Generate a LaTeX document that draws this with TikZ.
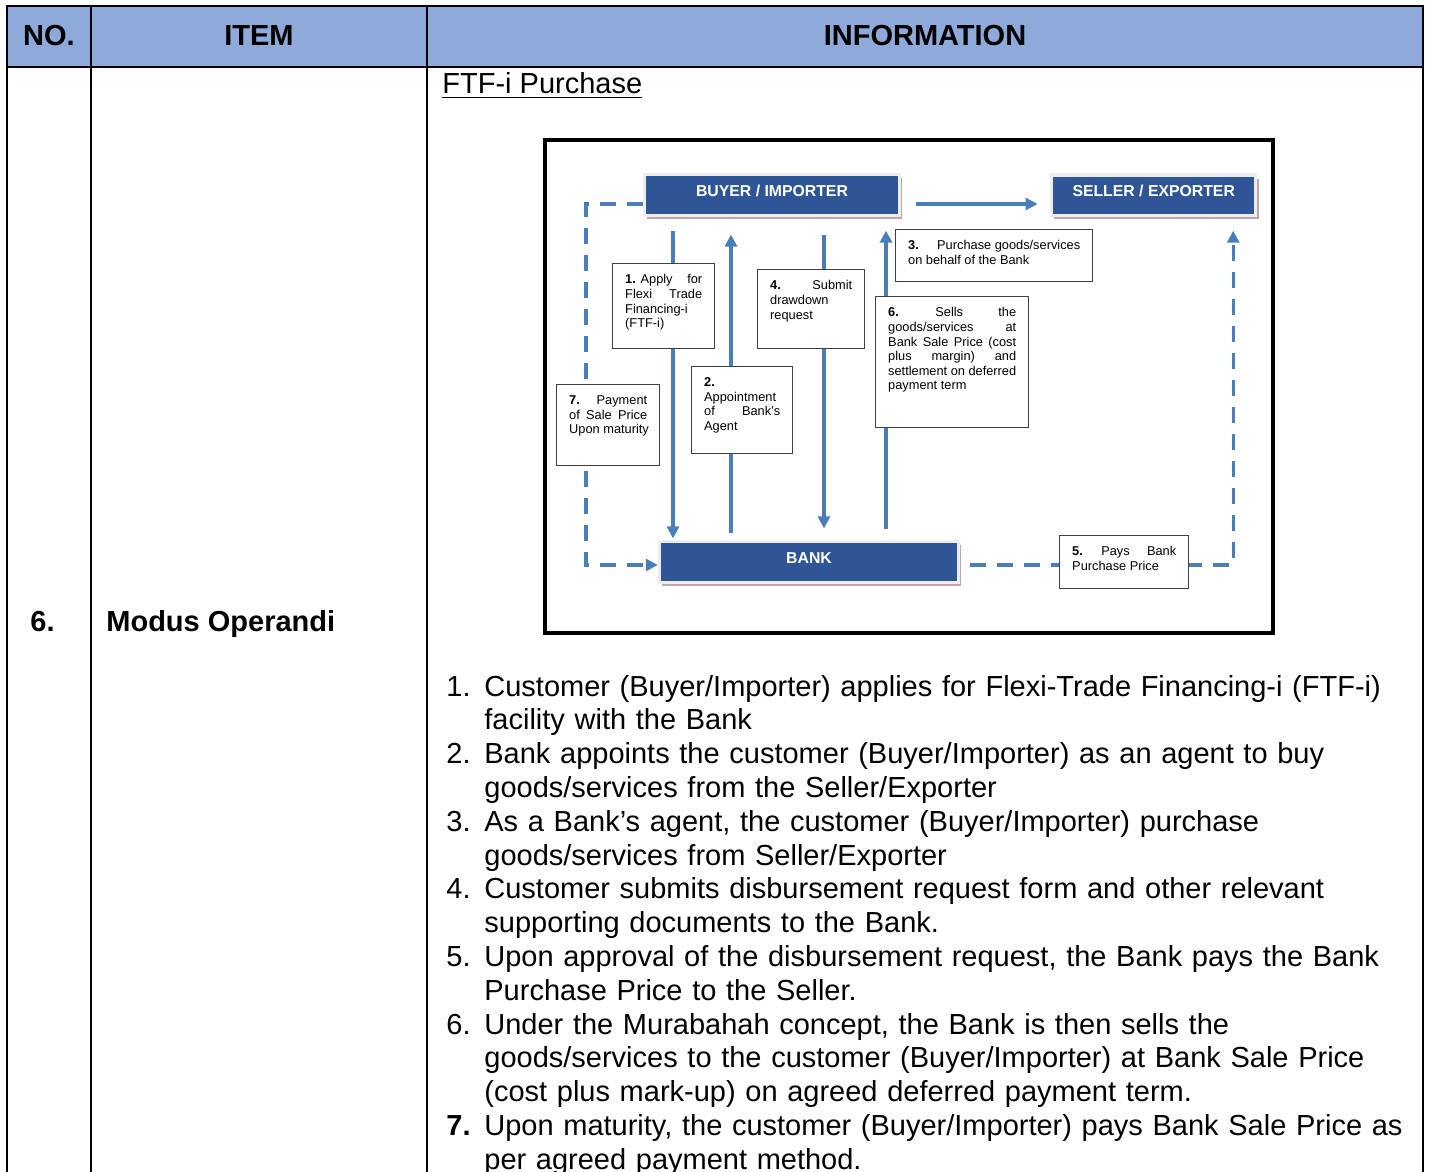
\documentclass[tikz,border=0pt]{standalone}
\usepackage{fontspec}
\setmainfont{Liberation Sans}
\usetikzlibrary{arrows.meta, positioning, shadows}
\definecolor{headblue}{HTML}{8EAADB}
\definecolor{boxblue}{HTML}{2F5597}
\definecolor{flowblue}{HTML}{4A7EBB}
\definecolor{rim}{HTML}{EDEDED}
\definecolor{rimshadow}{HTML}{C4A4A4}
\newcommand{\notefont}{\fontsize{6.4}{7.3}\selectfont}
\newcommand{\listfont}{\fontsize{14.5}{16.9}\selectfont}

\begin{document}
\begin{tikzpicture}[x=0.5pt, y=-0.5pt,
  head/.style={font=\listfont\bfseries, inner sep=0pt},
  party/.style={rectangle, fill=boxblue, draw=rim, line width=1.6pt, text=white, font=\fontsize{7.9}{9}\selectfont\bfseries, text height=5.7pt, text depth=4pt, general shadow={fill=rimshadow, shadow xshift=1.4pt, shadow yshift=-1.8pt}},
  note/.style={rectangle, draw=black!75, line width=0.7pt, fill=white, anchor=north west, inner xsep=6.25pt, inner ysep=5.5pt, font=\notefont},
  flow/.style={draw=flowblue, line width=1.7pt, -{Triangle[length=6pt, width=6pt]}},
  pay/.style={flow, dash pattern=on 8pt off 5.5pt}
]
  \useasboundingbox (0,0) rectangle (1429,1172);

  \fill[headblue] (7,6) rectangle (1423,67);
  \draw[line width=1pt] (7,1172) -- (7,6) -- (1423,6) -- (1423,1172);
  \draw[line width=1pt] (7,67) -- (1423,67);
  \draw[line width=1pt] (91,6) -- (91,1172);
  \draw[line width=1pt] (427,6) -- (427,1172);

  \node[head] (no) at (49,36) {NO.};
  \node[head] (item) at (259,36) {ITEM};
  \node[head] (info) at (925,36) {INFORMATION};

  \node[head, anchor=base west] (num) at (30,631.5) {6.};
  \node[head, anchor=base west] (itemname) at (106,631.5) {Modus Operandi};
  \node[anchor=base west, inner sep=0pt, font=\listfont] (title) at (442,94) {\underline{FTF-i Purchase}};

  \draw[line width=2pt] (545,140) rectangle (1273,633);

  \node[party, minimum width=127.6pt, minimum height=20.6pt] (buyer) at (772,195) {BUYER / IMPORTER};
  \node[party, minimum width=102.1pt, minimum height=20.1pt, right=74.4pt of buyer] (seller) {SELLER / EXPORTER};
  \node[party, minimum width=149.6pt, minimum height=20.6pt] (bank) at (809,562) {BANK};

  \draw[flow, shorten <=7.2pt, shorten >=6.2pt] ([yshift=-4.5pt]buyer.east) -- ([yshift=-4.5pt]seller.west);
  \draw[flow, shorten <=6.7pt, shorten >=0.7pt] ([xshift=-49.5pt]buyer.south) -- ([xshift=-68pt]bank.north);
  \draw[flow, shorten <=3.2pt, shorten >=8.7pt] ([xshift=-39pt]bank.north) -- ([xshift=-20.5pt]buyer.south);
  \draw[flow, shorten <=8.7pt, shorten >=5.7pt] ([xshift=26pt]buyer.south) -- ([xshift=7.5pt]bank.north);
  \draw[flow, shorten <=5.2pt, shorten >=6.7pt] ([xshift=38.5pt]bank.north) -- ([xshift=57pt]buyer.south);
  \draw[pay] ([yshift=-4.5pt]buyer.west) -- ++(-57,0) |- ([yshift=-1.5pt]bank.west);
  \draw[pay, shorten <=5pt, shorten >=7pt] ([yshift=-1.5pt]bank.east) -| ([xshift=39.75pt]seller.south);

  \node[note] (apply) at (612,263) {\parbox[t][31.5pt][t]{38.5pt}{\textbf{1.} Apply \hfill for\\Flexi \hfill Trade\\Financing-i\\(FTF-i)}};
  \node[note] (appoint) at (691,366) {\parbox[t][32.5pt][t]{38pt}{\textbf{2.}\\Appointment\\of \hfill Bank’s\\Agent}};
  \node[note] (purchase) at (895,229) {\parbox[t][15pt][t]{86pt}{\textbf{3.} \hfill Purchase goods/services\\on behalf of the Bank}};
  \node[note] (drawdown) at (757,269) {\parbox[t][28.5pt][t]{41pt}{\textbf{4.} \hfill Submit\\drawdown\\request}};
  \node[note] (settle) at (1059,535) {\parbox[t][15.5pt][t]{52pt}{\textbf{5.} \hfill Pays \hfill Bank\\Purchase Price}};
  \node[note] (sells) at (875,296) {\parbox[t][54.5pt][t]{64pt}{\textbf{6.} \hfill Sells \hfill the\\goods/services \hfill at\\Bank \hfill Sale \hfill Price \hfill (cost\\plus \hfill margin) \hfill and\\settlement \hfill on \hfill deferred\\payment term}};
  \node[note] (repay) at (556,384) {\parbox[t][29.5pt][t]{39pt}{\textbf{7.} \hfill Payment\\of \hfill Sale \hfill Price\\\mbox{Upon maturity}}};

  \node[anchor=base west, inner sep=0pt, font=\listfont, align=left, text width=490pt] (steps) at (446,696) {%
    \makebox[19pt][l]{1.}Customer (Buyer/Importer) applies for Flexi-Trade Financing-i (FTF-i)\\
    \hspace*{19pt}facility with the Bank\\
    \makebox[19pt][l]{2.}Bank appoints the customer (Buyer/Importer) as an agent to buy\\
    \hspace*{19pt}goods/services from the Seller/Exporter\\
    \makebox[19pt][l]{3.}As a Bank’s agent, the customer (Buyer/Importer) purchase\\
    \hspace*{19pt}goods/services from Seller/Exporter\\
    \makebox[19pt][l]{4.}Customer submits disbursement request form and other relevant\\
    \hspace*{19pt}supporting documents to the Bank.\\
    \makebox[19pt][l]{5.}Upon approval of the disbursement request, the Bank pays the Bank\\
    \hspace*{19pt}Purchase Price to the Seller.\\
    \makebox[19pt][l]{6.}Under the Murabahah concept, the Bank is then sells the\\
    \hspace*{19pt}goods/services to the customer (Buyer/Importer) at Bank Sale Price\\
    \hspace*{19pt}(cost plus mark-up) on agreed deferred payment term.\\
    \makebox[19pt][l]{\textbf{7.}}Upon maturity, the customer (Buyer/Importer) pays Bank Sale Price as\\
    \hspace*{19pt}per agreed payment method.};
\end{tikzpicture}
\end{document}
